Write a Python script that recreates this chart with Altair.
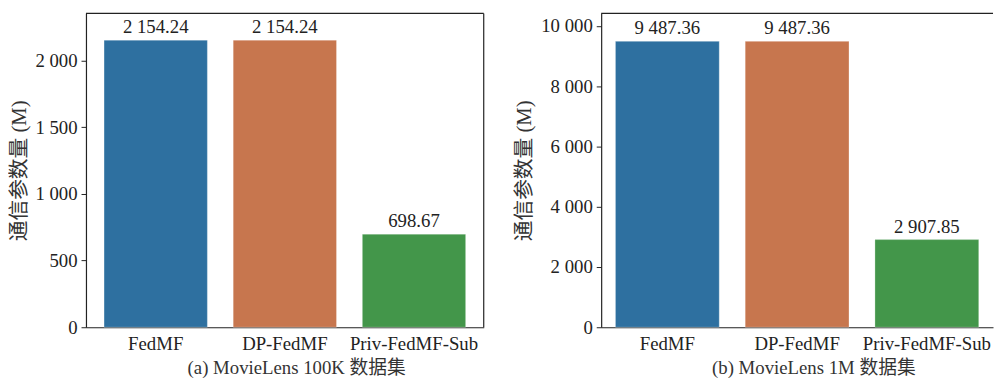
import altair as alt
import pandas as pd

methods = ["FedMF", "DP-FedMF", "Priv-FedMF-Sub"]
vals_100k = [2154.24, 2154.24, 698.67]
vals_1m = [9487.36, 9487.36, 2907.85]
colors = ["#2e70a0", "#c7764e", "#43964a"]
ticks_100k = [0, 500, 1000, 1500, 2000]
ticks_1m = [0, 2000, 4000, 6000, 8000, 10000]

FONT = "Liberation Serif, Times New Roman, Noto Sans CJK SC"
FS = 19
YTITLE = "通信参数量 (M)"
H = 318
FRAME = "#222222"


def panel(vals, ymax, yticks, xtitle, width, pad_outer, title_x, right_edge):
    df = pd.DataFrame({"method": methods, "value": vals})
    base = alt.Chart(df).encode(
        x=alt.X(
            "method:N",
            sort=methods,
            scale=alt.Scale(paddingInner=0.2, paddingOuter=pad_outer),
            axis=alt.Axis(
                title=xtitle,
                labelAngle=0,
                ticks=False,
                domain=True,
                labelPadding=8,
                titlePadding=5,
                titleX=title_x,
            ),
        ),
        y=alt.Y(
            "value:Q",
            scale=alt.Scale(domain=[0, ymax], nice=False, zero=True),
            axis=alt.Axis(
                title=YTITLE,
                values=yticks,
                format=",.0f",
                grid=False,
                domain=True,
                tickSize=5,
                labelPadding=4,
                titlePadding=6,
                titleFontSize=21,
            ),
        ),
    )
    bars = base.mark_bar(stroke="#ffffff", strokeOpacity=0.35, strokeWidth=0.8).encode(
        color=alt.Color(
            "method:N", scale=alt.Scale(domain=methods, range=colors), legend=None
        )
    )
    text = base.mark_text(
        baseline="bottom", dy=-3, font=FONT, fontSize=FS, color="#222222"
    ).encode(text=alt.Text("value:Q", format=",.2f"))
    one = alt.Chart(pd.DataFrame({"k": [0]}))
    top = one.mark_rule(color=FRAME, strokeWidth=1.2).encode(
        x=alt.value(0), x2=alt.value(width), y=alt.value(0)
    )
    layers = [bars, text, top]
    if right_edge:
        rgt = one.mark_rule(color=FRAME, strokeWidth=1.2).encode(
            x=alt.value(width), y=alt.value(0), y2=alt.value(H)
        )
        layers.append(rgt)
    return alt.layer(*layers).properties(width=width, height=H)


left = panel(vals_100k, 2355, ticks_100k, "(a) MovieLens 100K 数据集", 403, 0.14, 213, True)
right = panel(vals_1m, 10416, ticks_1m, "(b) MovieLens 1M 数据集", 397, 0.11, 215, False)

chart = (
    alt.hconcat(left, right, spacing=29)
    .configure(
        padding={"left": 0, "top": 2, "right": 0, "bottom": 0},
        locale={
            "number": {
                "decimal": ".",
                "thousands": " ",
                "grouping": [3],
                "currency": ["", ""],
            }
        },
    )
    .configure_view(stroke=None)
    .configure_axis(
        labelFont=FONT,
        labelFontSize=FS,
        labelColor="#222222",
        titleFont=FONT,
        titleFontSize=FS,
        titleFontWeight="normal",
        titleColor="#333333",
        tickColor="#222222",
        domainColor=FRAME,
        domainWidth=1.2,
    )
)

chart.save("out.html", embed_options={"renderer": "svg", "actions": False})
